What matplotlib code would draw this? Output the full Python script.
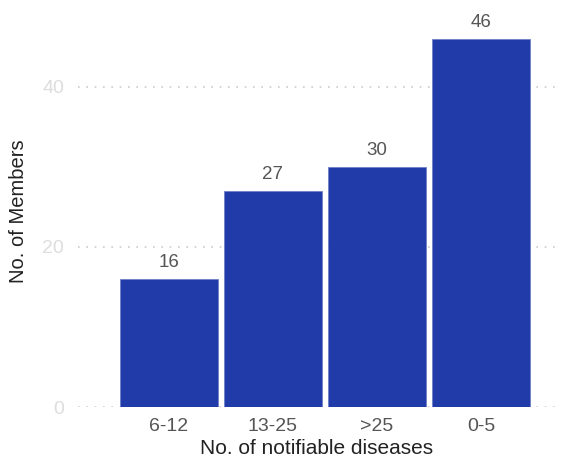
import matplotlib
matplotlib.use("Agg")
import matplotlib.pyplot as plt

categories = ["6-12", "13-25", ">25", "0-5"]
values = [16, 27, 30, 46]
yticks = [0, 20, 40]

plt.rcParams['font.family'] = ['Liberation Sans', 'DejaVu Sans']

fig = plt.figure(figsize=(5.61, 4.57), dpi=100)
ax = fig.add_axes([0.139, 0.1094, 0.850, 0.858])

x = list(range(len(categories)))
bars = ax.bar(x, values, width=0.94, color="#213BA8", edgecolor="#6f80c8",
              linewidth=0.6, zorder=3)
for xi, v in zip(x, values):
    ax.text(xi, v + 1.0, str(v), ha="center", va="bottom", fontsize=13.5, color="#555555")

ax.set_xlim(-0.875, 3.71)
ax.set_ylim(0, 49)
ax.set_yticks(yticks)
ax.set_xticks(x)
ax.set_xticklabels(categories)
ax.tick_params(axis="both", length=0)
ax.tick_params(axis="y", labelsize=14, labelcolor="#dddddd", pad=10)
ax.tick_params(axis="x", labelsize=14, labelcolor="#555555", pad=8)
ax.grid(axis="y", linestyle=(0, (1, 4)), color="#cccccc", linewidth=1.2, zorder=0)
for s in ax.spines.values():
    s.set_visible(False)
ax.set_xlabel("No. of notifiable diseases", fontsize=15, color="#222222", labelpad=3)
ax.set_ylabel("No. of Members", fontsize=14.5, color="#222222", labelpad=10)

fig.savefig("out.png", dpi=100)
